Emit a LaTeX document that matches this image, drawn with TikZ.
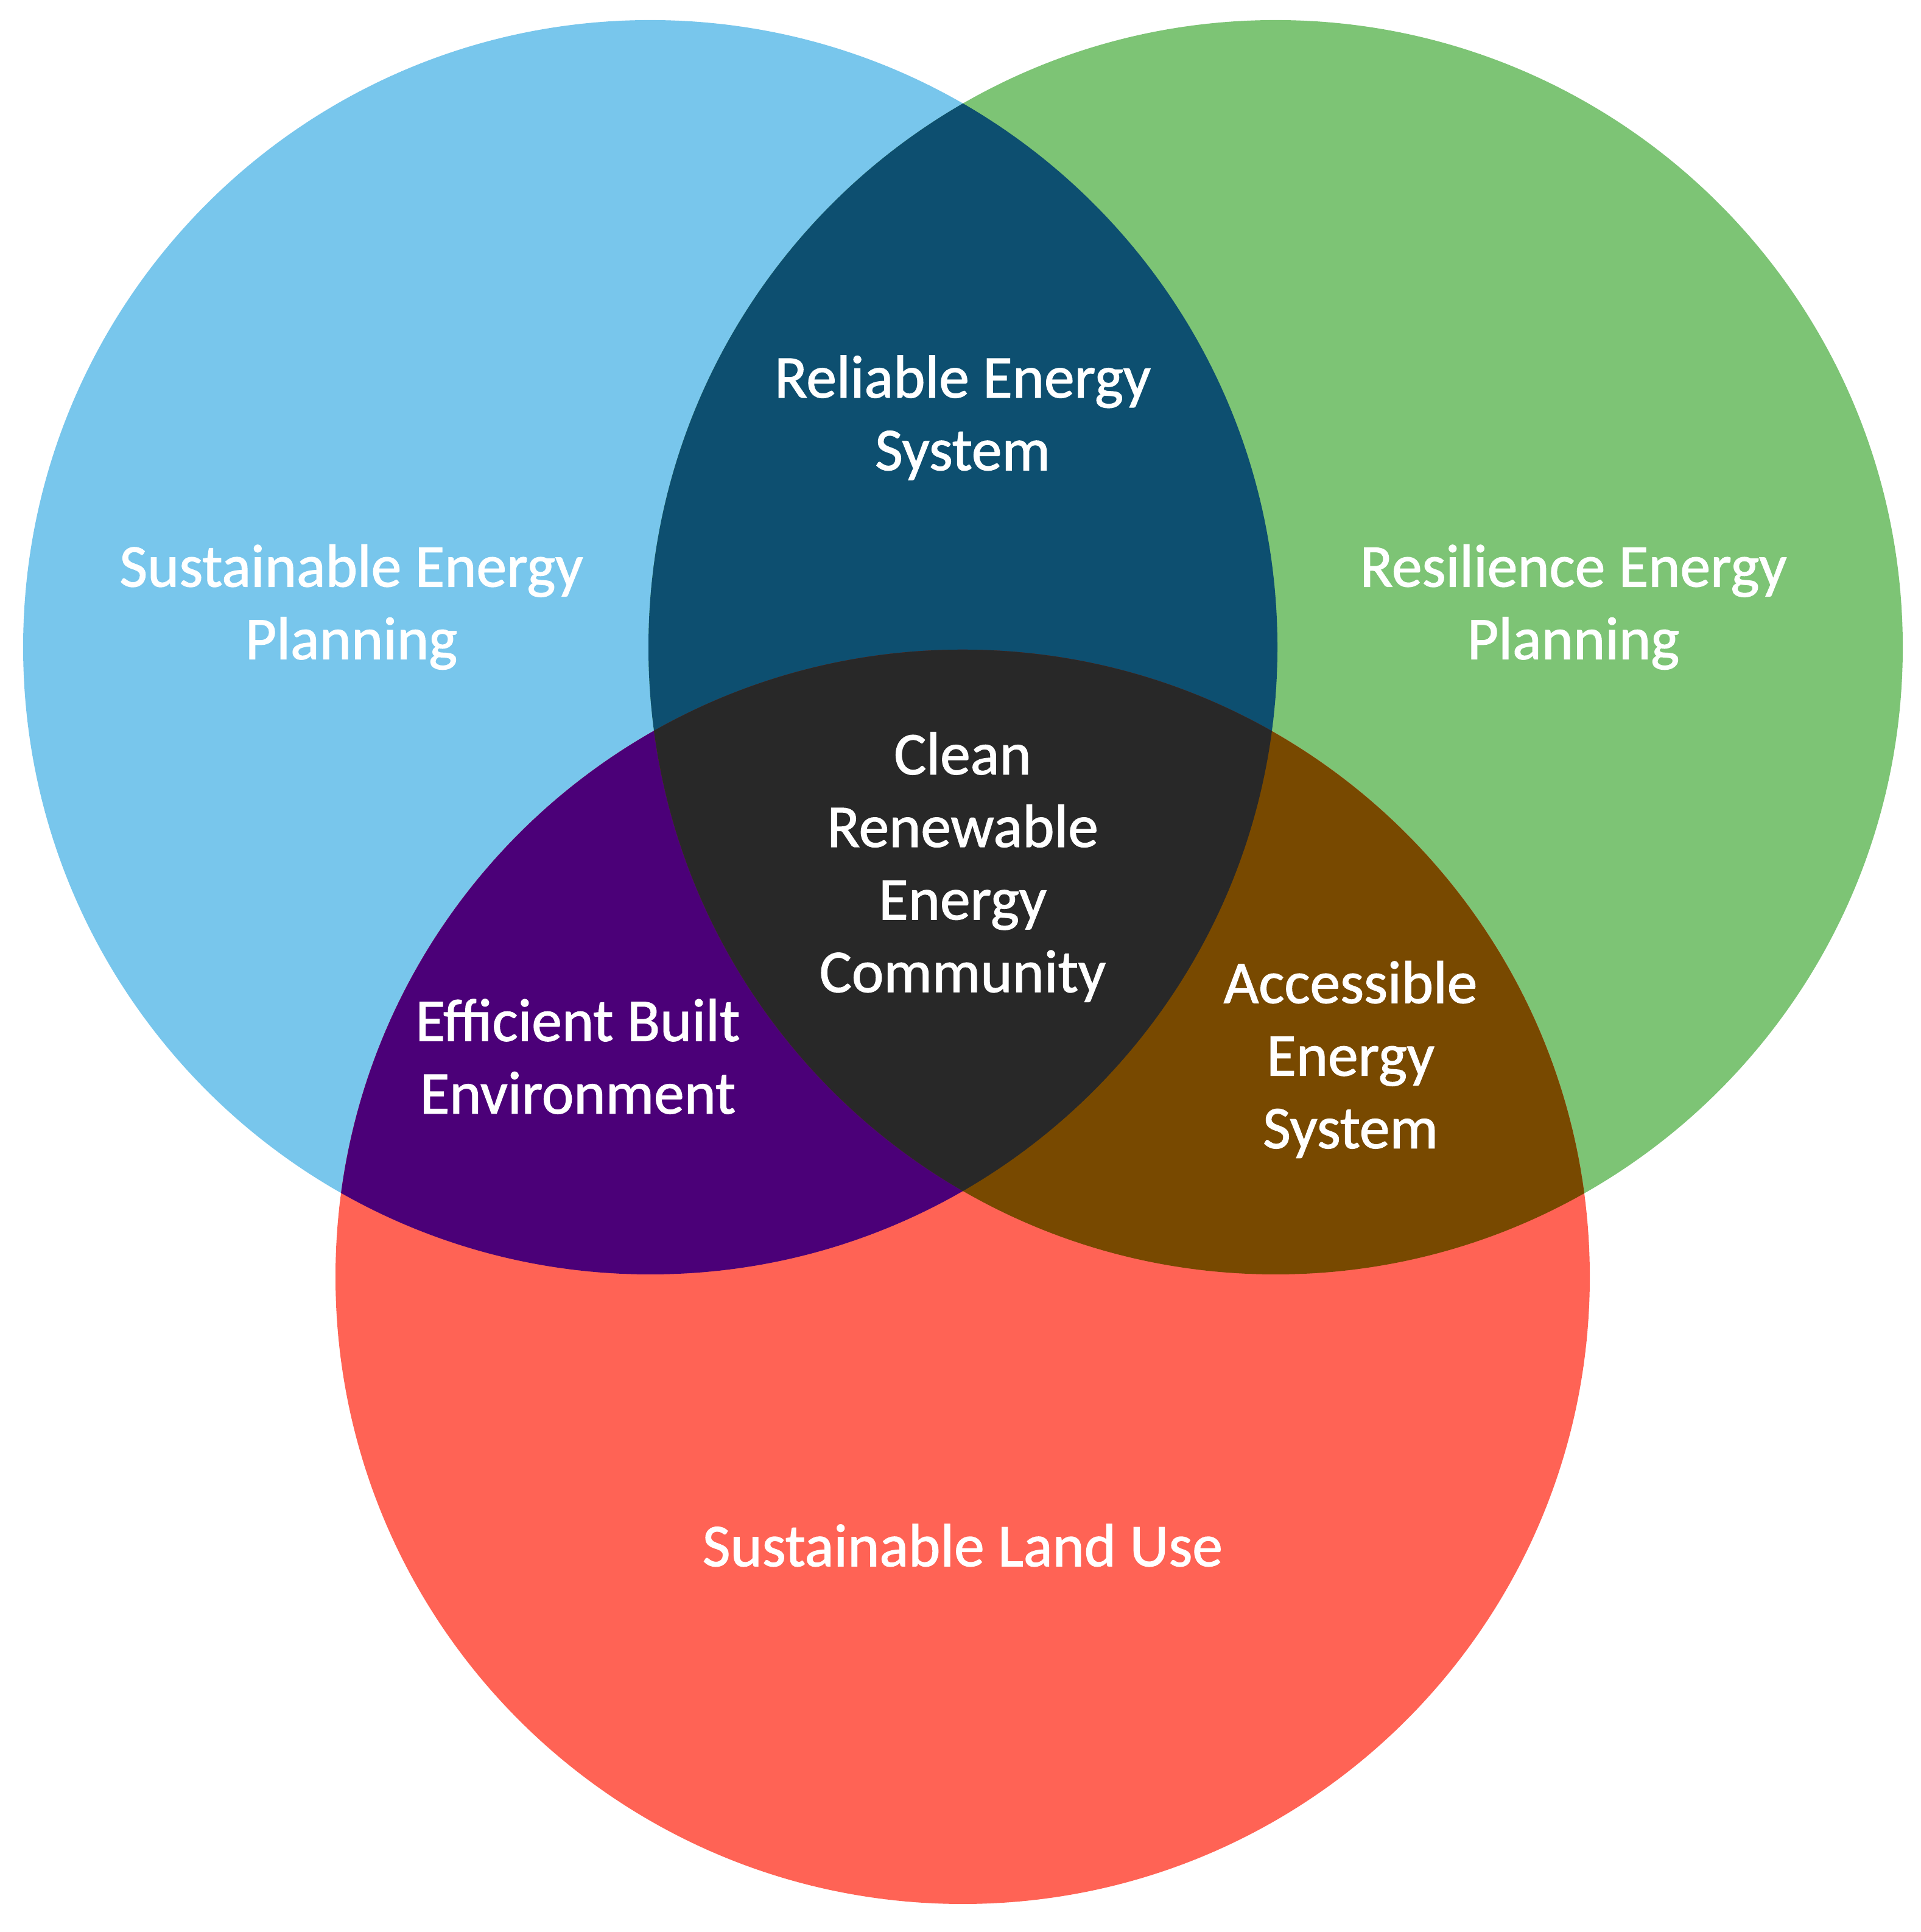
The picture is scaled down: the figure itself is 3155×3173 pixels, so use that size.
\documentclass[tikz,border=0pt]{standalone}
\usepackage{fontspec}
\setmainfont{Carlito}
\newfontfamily\lblfont[FakeBold=1.3]{Carlito}
\definecolor{cblue}{RGB}{120,198,236}
\definecolor{cgreen}{RGB}{125,196,117}
\definecolor{cred}{RGB}{255,99,85}
\definecolor{cbg}{RGB}{13,79,112}
\definecolor{cbr}{RGB}{75,0,120}
\definecolor{cgr}{RGB}{120,73,0}
\definecolor{call}{RGB}{40,40,40}
\begin{document}
\begin{tikzpicture}[x=0.01cm,y=0.01cm,
  lbl/.style={text=white,align=center,font=\lblfont\fontsize{28.3}{33.9}\selectfont,inner sep=0pt}]
\useasboundingbox (0,0) rectangle (3155,3173);
\fill[white] (0,0) rectangle (3155,3173);
\coordinate (B) at (1068,2110);
\coordinate (G) at (2095,2110);
\coordinate (R) at (1581,1076);
\def\rr{1030}
\fill[cblue] (B) circle (\rr);
\fill[cgreen] (G) circle (\rr);
\fill[cred] (R) circle (\rr);
\begin{scope}
  \clip (B) circle (\rr);
  \fill[cbg] (G) circle (\rr);
  \fill[cbr] (R) circle (\rr);
\end{scope}
\begin{scope}
  \clip (G) circle (\rr);
  \fill[cgr] (R) circle (\rr);
\end{scope}
\begin{scope}
  \clip (B) circle (\rr);
  \clip (G) circle (\rr);
  \fill[call] (R) circle (\rr);
\end{scope}
\node[lbl] (sep) at (577,2176) {Sustainable Energy\\Planning};
\node[lbl] (rep) at (2584,2176) {Resilience Energy\\Planning};
\node[lbl] (res) at (1581,2487) {Reliable Energy\\System};
\node[lbl] (cre) at (1581,1749) {Clean\\Renewable\\Energy\\Community};
\node[lbl] (ebe) at (949,1438) {Efficient Built\\Environment};
\node[lbl] (aes) at (2218,1433) {Accessible\\Energy\\System};
\node[lbl] (slu) at (1581,635) {Sustainable Land Use};
\end{tikzpicture}
\end{document}
